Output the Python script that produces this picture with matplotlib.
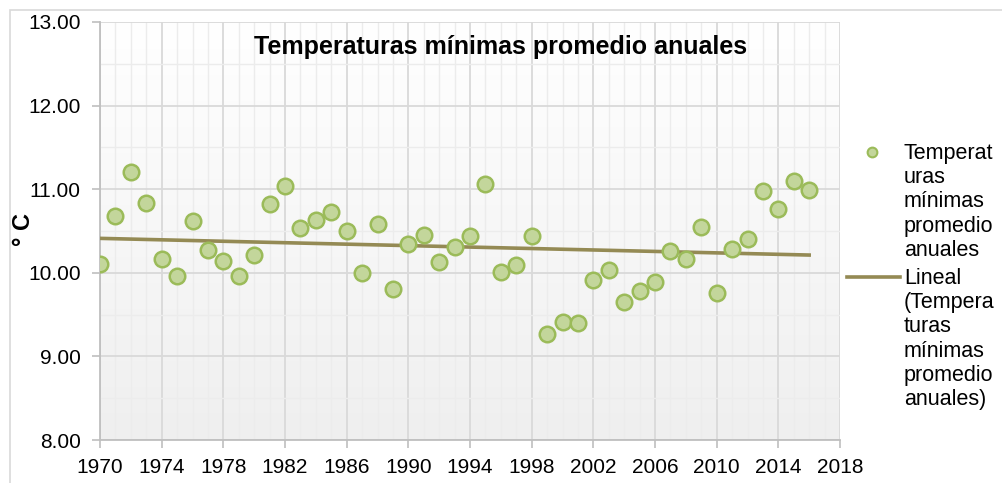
import numpy as np
import matplotlib.pyplot as plt
from matplotlib.lines import Line2D
from matplotlib.patches import Rectangle

plt.rcParams['font.family'] = ['Liberation Sans', 'DejaVu Sans']

years = list(range(1970, 2017))
temps = [10.11, 10.68, 11.21, 10.83, 10.17, 9.96, 10.62, 10.27, 10.14, 9.96,
         10.21, 10.82, 11.04, 10.54, 10.63, 10.73, 10.50, 10.00, 10.58, 9.81,
         10.34, 10.45, 10.13, 10.31, 10.44, 11.06, 10.01, 10.09, 10.44, 9.27,
         9.41, 9.40, 9.91, 10.03, 9.65, 9.78, 9.89, 10.26, 10.17, 10.55,
         9.76, 10.28, 10.40, 10.98, 10.76, 11.10, 10.99]
xticks = list(range(1970, 2019, 4))
yticks = [8, 9, 10, 11, 12, 13]
title = 'Temperaturas mínimas promedio anuales'
label_pts = 'Temperat\nuras\nmínimas\npromedio\nanuales'
label_trend = 'Lineal\n(Tempera\nturas\nmínimas\npromedio\nanuales)'

W, H = 1002, 483
fig = plt.figure(figsize=(W / 100, H / 100), dpi=100)
fig.patch.set_facecolor('white')
fig.add_artist(Rectangle((10 / W, -0.1), 1.2, 1 - 10 / H + 0.1, transform=fig.transFigure,
                         fill=False, edgecolor='#d9d9d9', lw=1.2))

ax = fig.add_axes([100 / W, 1 - 440 / H, 740 / W, 418 / H])

# gradient background
grad = np.linspace(1, 0, 256).reshape(-1, 1)
ax.imshow(grad, extent=[0, 1, 0, 1], transform=ax.transAxes, aspect='auto',
          cmap=plt.cm.colors.LinearSegmentedColormap.from_list('g', ['#efefef', '#ffffff']),
          zorder=0, interpolation='bicubic')

ax.set_xlim(1970, 2018)
ax.set_ylim(8, 13)
ax.set_xticks(xticks)
ax.set_xticks(range(1970, 2019), minor=True)
ax.set_yticks(yticks)
ax.set_yticks(np.arange(8, 13.01, 0.5), minor=True)
ax.set_yticklabels([f'{v:.2f}' for v in yticks])
ax.grid(which='major', color='#d9d9d9', lw=1.3, zorder=1)
ax.grid(which='minor', color='#ececec', lw=1.0, zorder=1)
ax.tick_params(which='major', length=6, color='#bfbfbf', labelsize=15, width=1.2)
ax.tick_params(axis='y', pad=8)
ax.tick_params(axis='x', pad=7)
ax.tick_params(which='minor', length=0)
for s in ['top', 'right']:
    ax.spines[s].set_visible(False)
for s in ['left', 'bottom']:
    ax.spines[s].set_color('#bfbfbf')
    ax.spines[s].set_linewidth(1.3)

ax.scatter(years, temps, s=125, facecolor='#c3d69b', edgecolor='#9bbb59', lw=1.8, zorder=4)

coef = np.polyfit(years, temps, 1)
tx = np.array([years[0], years[-1]])
ax.plot(tx, np.polyval(coef, tx), color='#948a54', lw=2.6, zorder=3)

fig.text(501 / W, 1 - 47 / H, title, ha='center', va='center', fontsize=18, fontweight='bold')
fig.text(24 / W, 1 - 230 / H, '° C', rotation=90, ha='center', va='center', fontsize=17,
         fontweight='bold')

# legend
fig.add_artist(Line2D([872 / W], [1 - 152 / H], marker='o', ms=7, mfc='#c3d69b', mec='#9bbb59',
                      mew=1.5, transform=fig.transFigure))
fig.add_artist(Line2D([847 / W, 900 / W], [1 - 277 / H] * 2, color='#948a54', lw=2.6,
                      transform=fig.transFigure))
fig.text(904 / W, 1 - 143 / H, label_pts, ha='left', va='top', fontsize=15.5, linespacing=1.2)
fig.text(904 / W, 1 - 268 / H, label_trend, ha='left', va='top', fontsize=15.5, linespacing=1.2)

fig.savefig('out.png', dpi=100)
